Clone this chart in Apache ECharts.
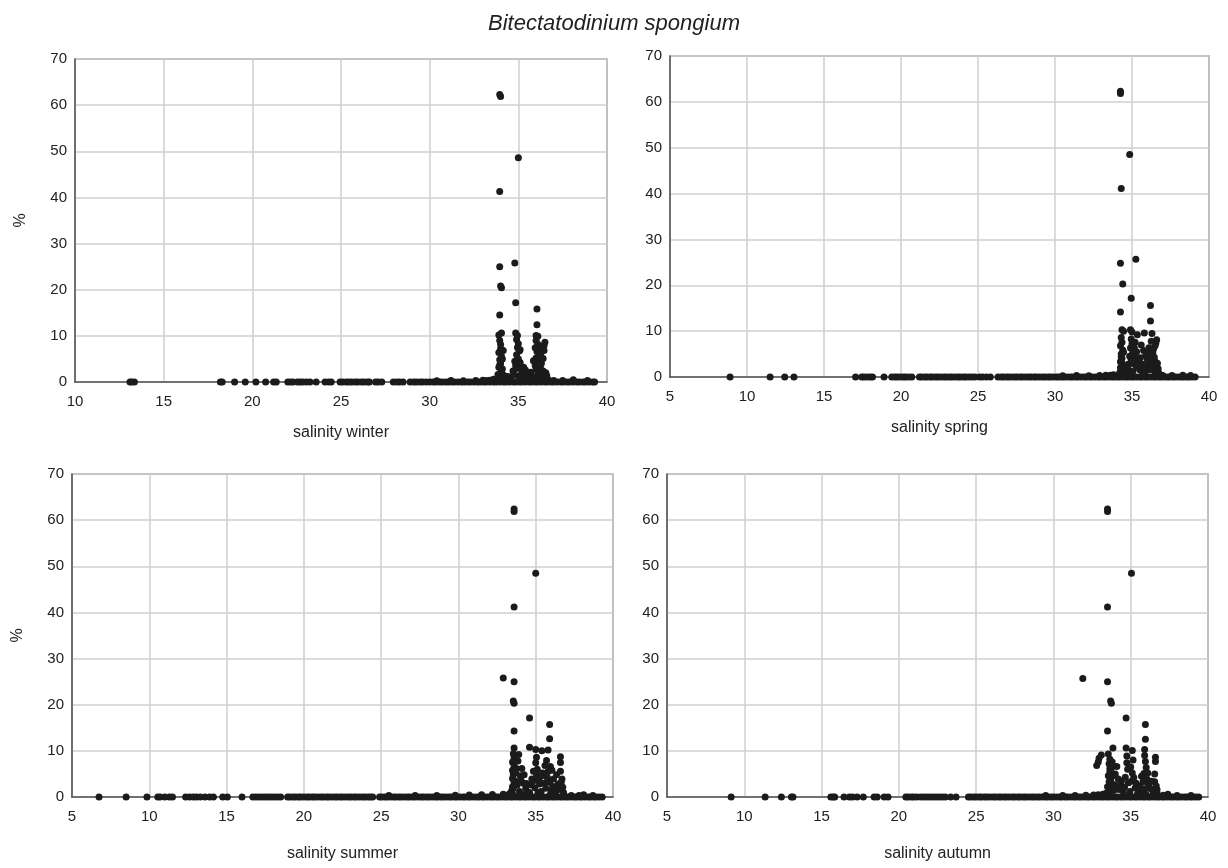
<!DOCTYPE html>
<html>
<head>
<meta charset="utf-8">
<script src="https://cdn.jsdelivr.net/npm/echarts@6/dist/echarts.min.js"></script>
<style>
  html, body { margin: 0; padding: 0; background: #fff; }
  #chart { width: 1228px; height: 868px; }
</style>
</head>
<body>
<div id="chart"></div>
<script>
const title = 'Bitectatodinium spongium'
const seasons = ['winter', 'spring', 'summer', 'autumn']
const xMins = [10, 5, 5, 5]
const yTicks = [0, 10, 20, 30, 40, 50, 60, 70]

// salinities of samples at 0 %
const winterZero = [13.1, 13.2, 13.35, 18.2, 18.3, 19.0, 19.6, 20.2, 20.75, 21.2, 21.35, 22.0, 22.15, 22.3, 22.55, 22.7, 22.85, 23.05, 23.25, 23.6, 24.1, 24.3, 24.45, 24.95, 25.1, 25.3, 25.45, 25.6, 25.8, 25.95, 26.15, 26.3, 26.5, 26.6, 26.95, 27.1, 27.3, 27.95, 28.15, 28.3, 28.5, 28.9, 29.1, 29.25, 29.45, 29.6, 29.8, 30.0, 30.2, 30.35, 30.55, 30.7, 30.9, 31.05, 31.25, 31.4, 31.6, 31.8, 31.95, 32.15, 32.3, 32.5, 32.7, 32.85, 33.05, 33.2, 33.4, 33.6, 33.75, 33.95, 34.15, 34.3, 34.5, 34.7, 34.85, 35.05, 35.2, 35.4, 35.6, 35.75, 35.95, 36.1, 36.3, 36.5, 36.65, 36.85, 37.0, 37.2, 37.4, 37.55, 37.75, 37.9, 38.1, 38.3, 38.45, 38.65, 38.8, 39.0, 39.2, 39.3]
const springZero = [8.9, 11.5, 12.45, 13.05, 17.05, 17.45, 17.6, 17.8, 18.0, 18.15, 18.9, 19.4, 19.6, 19.75, 19.95, 20.15, 20.3, 20.5, 20.7, 21.2, 21.35, 21.55, 21.7, 21.9, 22.05, 22.25, 22.4, 22.6, 22.8, 22.95, 23.15, 23.3, 23.5, 23.7, 23.85, 24.05, 24.2, 24.4, 24.6, 24.8, 25.1, 25.3, 25.55, 25.8, 26.3, 26.5, 26.65, 26.85, 27.0, 27.2, 27.4, 27.55, 27.75, 27.9, 28.1, 28.3, 28.45, 28.65, 28.8, 29.0, 29.2, 29.35, 29.55, 29.7, 29.9, 30.1, 30.25, 30.45, 30.6, 30.8, 31.0, 31.15, 31.35, 31.5, 31.7, 31.9, 32.05, 32.25, 32.4, 32.6, 32.8, 32.95, 33.15, 33.3, 33.5, 33.7, 33.85, 34.05, 34.2, 34.4, 34.6, 34.75, 34.95, 35.1, 35.3, 35.5, 35.65, 35.85, 36.0, 36.2, 36.4, 36.55, 36.75, 36.9, 37.1, 37.3, 37.45, 37.65, 37.8, 38.0, 38.2, 38.35, 38.55, 38.7, 38.9, 39.1]
const summerZero = [6.75, 8.5, 9.85, 10.55, 10.7, 11.0, 11.3, 11.5, 12.35, 12.6, 12.85, 13.05, 13.3, 13.6, 13.9, 14.15, 14.75, 15.05, 16.0, 16.7, 16.9, 17.1, 17.3, 17.5, 17.7, 17.9, 18.1, 18.3, 18.5, 18.95, 19.1, 19.3, 19.45, 19.65, 19.8, 20.0, 20.2, 20.35, 20.55, 20.7, 20.9, 21.1, 21.25, 21.45, 21.6, 21.8, 22.0, 22.15, 22.35, 22.5, 22.7, 22.9, 23.05, 23.25, 23.4, 23.6, 23.8, 23.95, 24.15, 24.3, 24.45, 24.9, 25.05, 25.25, 25.4, 25.6, 25.8, 25.95, 26.15, 26.3, 26.5, 26.7, 26.85, 27.05, 27.2, 27.4, 27.6, 27.75, 27.95, 28.1, 28.3, 28.5, 28.65, 28.85, 29.0, 29.2, 29.4, 29.55, 29.75, 29.9, 30.1, 30.3, 30.45, 30.65, 30.8, 31.0, 31.2, 31.35, 31.55, 31.7, 31.9, 32.1, 32.25, 32.45, 32.6, 32.8, 33.0, 33.15, 33.35, 33.5, 33.7, 33.9, 34.05, 34.25, 34.4, 34.6, 34.8, 34.95, 35.15, 35.3, 35.5, 35.7, 35.85, 36.05, 36.2, 36.4, 36.6, 36.75, 36.95, 37.1, 37.3, 37.5, 37.65, 37.85, 38.0, 38.2, 38.4, 38.55, 38.75, 38.9, 39.1, 39.3]
const autumnZero = [9.15, 11.35, 12.4, 13.05, 13.15, 15.6, 15.75, 15.85, 16.45, 16.8, 17.0, 17.3, 17.7, 18.4, 18.6, 19.05, 19.3, 20.45, 20.6, 20.8, 20.95, 21.15, 21.4, 21.6, 21.8, 22.0, 22.2, 22.4, 22.6, 22.8, 23.0, 23.35, 23.7, 24.5, 24.65, 24.85, 25.0, 25.2, 25.35, 25.55, 25.7, 25.9, 26.1, 26.25, 26.45, 26.6, 26.8, 26.95, 27.15, 27.35, 27.5, 27.7, 27.85, 28.05, 28.2, 28.4, 28.6, 28.75, 28.95, 29.1, 29.3, 29.5, 29.65, 29.85, 30.0, 30.2, 30.4, 30.55, 30.75, 30.9, 31.1, 31.3, 31.45, 31.65, 31.8, 32.0, 32.2, 32.35, 32.55, 32.7, 32.9, 33.1, 33.25, 33.45, 33.6, 33.8, 34.0, 34.15, 34.35, 34.5, 34.7, 34.9, 35.05, 35.25, 35.4, 35.6, 35.8, 35.95, 36.15, 36.3, 36.5, 36.7, 36.85, 37.05, 37.2, 37.4, 37.6, 37.75, 37.95, 38.1, 38.3, 38.5, 38.65, 38.85, 39.0, 39.2, 39.4]

// [salinity, %] for samples above 0
const winterPts = [[33.95, 62.3], [34.0, 61.9], [35.0, 48.6], [33.95, 41.3], [33.95, 25.0], [34.8, 25.8], [34.0, 20.8], [34.05, 20.4], [34.85, 17.2], [33.95, 14.5], [36.05, 15.8], [36.05, 12.4], [34.05, 10.6], [33.9, 10.2], [34.85, 10.6], [34.95, 10.1], [36.0, 10.1], [36.1, 9.9], [36.5, 8.6], [36.45, 7.9], [33.95, 9.0], [34.0, 8.1], [34.0, 7.2], [33.9, 6.4], [34.05, 5.6], [33.95, 4.8], [34.0, 4.0], [33.9, 3.2], [34.05, 2.4], [33.85, 1.6], [34.1, 1.0], [34.9, 9.2], [35.0, 8.3], [34.95, 7.5], [35.05, 6.7], [34.9, 5.9], [35.0, 5.0], [35.1, 4.2], [34.85, 3.5], [35.3, 3.2], [35.4, 2.6], [35.2, 2.0], [34.75, 1.6], [34.6, 1.1], [35.5, 1.3], [35.6, 0.8], [36.0, 9.0], [36.1, 8.2], [35.95, 7.4], [36.05, 6.6], [36.2, 5.9], [36.0, 5.2], [36.1, 4.5], [36.3, 4.0], [35.95, 3.6], [36.25, 3.0], [36.4, 2.4], [36.1, 2.0], [36.3, 1.5], [36.5, 1.1], [35.8, 1.2], [36.6, 0.7], [33.6, 0.6], [33.4, 0.4], [34.3, 0.5], [34.4, 1.2], [33.2, 0.3], [37.0, 0.3], [38.1, 0.5], [30.4, 0.25], [31.2, 0.3], [31.9, 0.25], [32.6, 0.35], [33.0, 0.4], [37.5, 0.3], [38.9, 0.3],
  [33.9, 0.9], [34.0, 1.9], [34.1, 2.8], [33.95, 3.7], [34.1, 5.0], [34.15, 6.8], [34.2, 1.4], [34.5, 0.8], [34.7, 2.4], [34.8, 4.5], [34.9, 2.9], [35.0, 1.3], [35.1, 0.9], [35.2, 3.0], [35.3, 1.5], [35.45, 0.7], [35.1, 7.0], [34.95, 4.2], [35.7, 2.1], [35.9, 0.9], [36.0, 2.8], [36.15, 3.5], [36.2, 1.2], [36.35, 0.9], [36.4, 5.1], [36.45, 6.8], [36.55, 2.0], [36.6, 1.4], [36.2, 7.2], [35.85, 4.6], [36.3, 6.5], [36.7, 0.5], [33.8, 0.3], [34.6, 0.4], [35.8, 0.4]]
const springPts = [[34.25, 62.3], [34.25, 61.8], [34.85, 48.5], [34.3, 41.1], [34.25, 24.8], [35.25, 25.7], [34.4, 20.3], [34.95, 17.2], [34.25, 14.2], [36.2, 15.6], [36.2, 12.2], [34.35, 10.3], [34.45, 10.0], [34.9, 10.3], [35.0, 9.8], [35.35, 9.2], [35.8, 9.6], [36.3, 9.5], [36.6, 8.1], [36.55, 7.4], [34.3, 8.6], [34.35, 7.6], [34.25, 6.8], [34.4, 5.9], [34.3, 5.0], [34.35, 4.1], [34.25, 3.3], [34.4, 2.5], [34.3, 1.7], [34.45, 1.0], [34.95, 8.3], [35.0, 7.2], [34.9, 6.3], [35.05, 5.4], [35.2, 4.6], [34.95, 3.8], [35.1, 2.9], [35.3, 2.1], [34.8, 1.5], [35.5, 1.6], [35.6, 7.0], [35.75, 5.8], [35.9, 4.8], [36.1, 6.4], [36.25, 7.8], [36.4, 6.1], [36.0, 3.8], [36.3, 4.3], [36.5, 3.4], [36.2, 2.6], [36.6, 2.0], [36.45, 1.3], [35.85, 1.1], [36.75, 0.8], [33.8, 0.5], [33.6, 0.4], [34.6, 0.6], [37.0, 0.3], [38.3, 0.4], [30.5, 0.25], [31.4, 0.3], [32.2, 0.25], [32.9, 0.35], [33.3, 0.4], [37.6, 0.3], [38.8, 0.3],
  [34.2, 0.9], [34.25, 2.0], [34.35, 3.0], [34.3, 4.4], [34.45, 5.4], [34.5, 2.2], [34.6, 1.3], [34.75, 2.8], [34.85, 4.5], [35.0, 3.2], [35.05, 1.2], [35.15, 6.4], [35.2, 7.6], [35.3, 5.5], [35.4, 3.6], [35.45, 2.4], [35.55, 4.2], [35.7, 2.8], [35.8, 1.7], [35.95, 2.4], [36.0, 5.2], [36.1, 1.6], [36.15, 3.2], [36.3, 2.0], [36.35, 5.2], [36.45, 4.3], [36.55, 2.6], [36.6, 1.0], [36.65, 3.0], [36.7, 1.8], [36.5, 6.8], [35.7, 0.6], [36.9, 0.4], [34.9, 0.5]]
const summerPts = [[33.6, 62.4], [33.6, 61.9], [35.0, 48.5], [33.6, 41.2], [32.9, 25.8], [33.6, 25.0], [33.55, 20.8], [33.6, 20.3], [34.6, 17.1], [33.6, 14.3], [35.9, 15.7], [35.9, 12.6], [33.6, 10.6], [34.6, 10.8], [35.0, 10.3], [35.4, 10.0], [35.8, 10.2], [36.6, 8.7], [36.6, 7.5], [33.55, 9.4], [33.6, 8.5], [33.5, 7.6], [33.6, 6.7], [33.5, 5.8], [33.55, 4.9], [33.5, 4.0], [33.6, 3.1], [33.5, 2.2], [33.45, 1.4], [33.5, 0.7], [33.9, 9.2], [33.85, 7.8], [34.1, 6.2], [34.0, 4.6], [34.2, 3.0], [34.35, 1.8], [34.7, 2.6], [34.9, 3.6], [35.05, 8.6], [35.0, 7.4], [35.1, 6.0], [35.05, 4.9], [35.2, 3.8], [35.45, 5.2], [35.6, 6.8], [35.7, 7.9], [35.75, 4.2], [35.9, 3.2], [36.05, 5.8], [36.1, 2.3], [36.25, 1.5], [35.35, 1.2], [36.45, 2.8], [36.7, 3.9], [36.8, 1.0], [34.5, 0.9], [37.3, 0.3], [38.1, 0.5], [25.5, 0.3], [27.2, 0.35], [28.6, 0.3], [29.8, 0.4], [30.7, 0.45], [31.5, 0.5], [32.2, 0.55], [32.9, 0.6], [33.3, 0.7], [37.8, 0.3], [38.7, 0.3],
  [33.45, 0.3], [33.55, 1.9], [33.65, 3.5], [33.7, 5.2], [33.75, 6.2], [33.8, 2.6], [33.95, 1.2], [34.05, 3.6], [34.25, 4.8], [34.4, 2.9], [34.6, 1.0], [34.75, 3.9], [34.85, 5.6], [34.95, 2.0], [35.15, 1.0], [35.25, 2.8], [35.35, 4.5], [35.55, 3.0], [35.65, 1.9], [35.8, 5.5], [35.95, 6.6], [36.0, 1.4], [36.15, 3.9], [36.3, 2.2], [36.35, 4.8], [36.5, 1.6], [36.6, 5.6], [36.65, 3.2], [36.75, 2.1], [35.95, 0.6], [34.3, 0.5], [36.3, 0.5]]
const autumnPts = [[33.5, 62.4], [33.5, 61.9], [35.05, 48.5], [33.5, 41.2], [31.9, 25.7], [33.5, 25.0], [33.7, 20.8], [33.75, 20.3], [34.7, 17.1], [33.5, 14.3], [35.95, 15.7], [35.95, 12.5], [33.85, 10.6], [34.7, 10.6], [35.1, 10.1], [35.9, 10.3], [36.6, 8.6], [36.6, 7.7], [33.1, 9.1], [32.95, 8.4], [32.8, 6.8], [32.9, 7.6], [33.55, 9.3], [33.65, 8.2], [33.6, 7.2], [33.75, 6.3], [33.65, 5.4], [33.8, 4.5], [33.7, 3.6], [33.85, 2.7], [33.75, 1.8], [33.6, 1.0], [34.0, 5.0], [34.2, 3.9], [34.35, 2.4], [34.5, 1.3], [34.75, 8.9], [34.75, 7.4], [34.8, 6.0], [35.1, 5.2], [35.05, 3.4], [35.3, 2.0], [35.15, 8.0], [35.5, 1.4], [35.9, 9.0], [35.95, 7.7], [36.0, 6.4], [35.85, 5.1], [36.05, 3.9], [36.15, 2.8], [36.3, 1.8], [35.75, 1.0], [36.55, 3.3], [36.7, 0.9], [34.9, 0.6], [37.1, 0.4], [37.4, 0.6], [29.5, 0.3], [30.6, 0.3], [31.4, 0.35], [32.1, 0.4], [32.6, 0.45], [33.2, 0.5], [38.0, 0.3], [38.9, 0.3],
  [33.4, 0.8], [33.5, 2.2], [33.6, 3.3], [33.55, 4.6], [33.65, 6.1], [33.8, 7.6], [33.9, 1.4], [34.0, 2.6], [34.1, 6.6], [34.25, 1.6], [34.4, 3.4], [34.6, 2.1], [34.65, 4.3], [34.85, 3.1], [34.95, 1.2], [35.0, 6.5], [35.2, 4.2], [35.35, 3.0], [35.45, 0.8], [35.6, 2.4], [35.7, 4.5], [35.8, 3.3], [35.95, 1.8], [36.1, 5.2], [36.2, 2.0], [36.35, 3.4], [36.45, 1.1], [36.55, 5.0], [36.65, 2.4], [36.7, 1.6], [33.2, 0.6], [32.9, 0.5], [36.0, 0.5]]

const zeros = [winterZero, springZero, summerZero, autumnZero]
const pts = [winterPts, springPts, summerPts, autumnPts]

const font = 'Liberation Sans'
const ink = '#222'
const grids = [
  { left: 75, top: 59, width: 532, height: 323 },
  { left: 670, top: 56, width: 539, height: 321 },
  { left: 72, top: 474, width: 541, height: 323 },
  { left: 667, top: 474, width: 541, height: 323 },
]
const nameGaps = [43, 43, 49, 49]

const chart = echarts.init(document.getElementById('chart'))
chart.setOption({
  backgroundColor: '#fff',
  animation: false,
  title: {
    text: title,
    left: 'center',
    top: 8,
    textStyle: { fontFamily: font, fontStyle: 'italic', fontWeight: 'normal', fontSize: 22, color: ink },
  },
  grid: grids.map((g) => ({ ...g, show: true, borderColor: '#4a4a4a', borderWidth: 1.2, backgroundColor: 'transparent' })),
  xAxis: seasons.map((s, i) => ({
    type: 'value',
    gridIndex: i,
    min: xMins[i],
    max: 40,
    interval: 5,
    name: 'salinity ' + s,
    nameLocation: 'middle',
    nameGap: nameGaps[i],
    nameTextStyle: { fontFamily: font, fontSize: 16, color: ink },
    axisLine: { lineStyle: { color: '#555', width: 1.5 } },
    axisTick: { show: false },
    axisLabel: { fontFamily: font, fontSize: 15, color: ink, margin: 12 },
    splitLine: { lineStyle: { color: '#cfcfcf', width: 1.5 } },
  })),
  yAxis: seasons.map((s, i) => ({
    type: 'value',
    gridIndex: i,
    min: yTicks[0],
    max: yTicks[yTicks.length - 1],
    interval: 10,
    name: i % 2 === 0 ? '%' : '',
    nameLocation: 'middle',
    nameGap: 46,
    nameTextStyle: { fontFamily: font, fontSize: 16, color: ink },
    axisLine: { show: true, lineStyle: { color: '#555', width: 1.5 } },
    axisTick: { show: false },
    axisLabel: { fontFamily: font, fontSize: 15, color: ink, margin: 8 },
    splitLine: { lineStyle: { color: '#cfcfcf', width: 1.5 } },
  })),
  series: seasons.map((s, i) => ({
    type: 'scatter',
    xAxisIndex: i,
    yAxisIndex: i,
    symbolSize: 7,
    itemStyle: { color: '#1b1b1b', opacity: 1 },
    data: zeros[i].map((x) => [x, 0]).concat(pts[i]),
  })),
})
</script>
</body>
</html>
